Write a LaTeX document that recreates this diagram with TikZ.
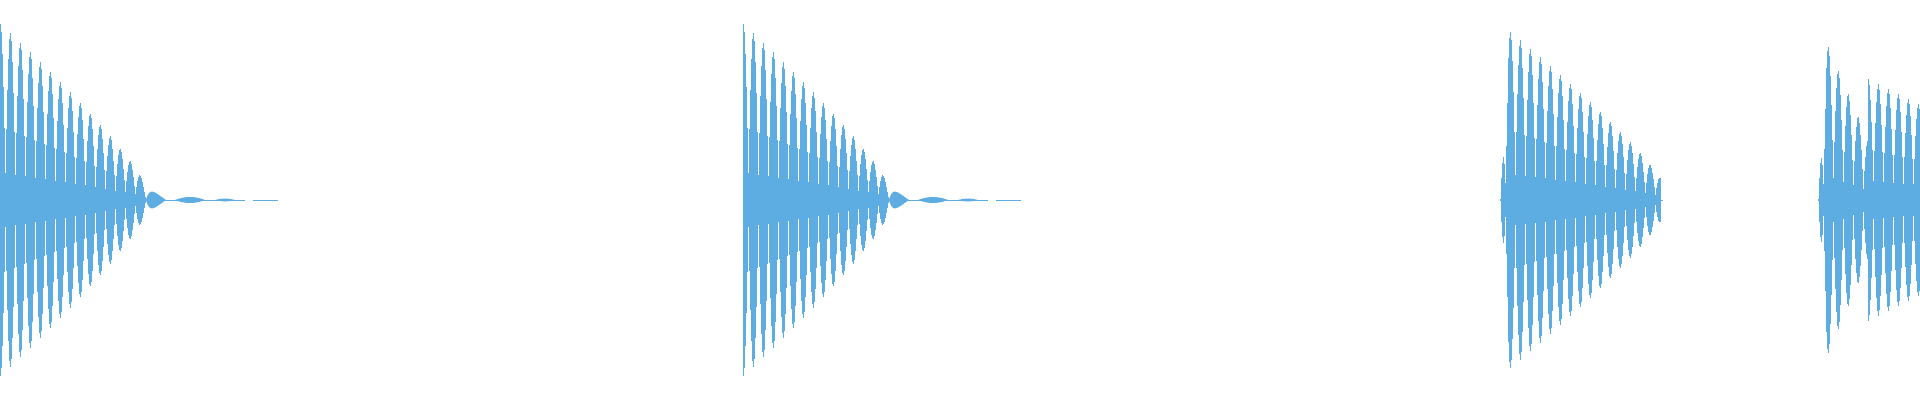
\documentclass[tikz,border=0pt]{standalone}
\definecolor{wave}{RGB}{93,173,226}
\begin{document}
\begin{tikzpicture}[x=1pt,y=1pt,wv/.style={draw=wave,line width=0.9pt}]
\useasboundingbox (0,0) rectangle (1920,400);
\clip (0,0) rectangle (1920,400);
% bursts 1 and 2
\foreach \s in {0,743}{
  \foreach \t in {0,...,145}{
    \pgfmathsetmacro\e{pow(1-\t/152,0.8)}
    \pgfmathsetmacro\h{175*\e*(0.15+0.85*abs(cos(18*\t)))+1}
    \draw[wv] (\s+\t,200-\h) -- (\s+\t,200+\h);
  }
  \draw[wave,line width=0.8pt] (\s+145,200) -- (\s+245,200) (\s+253,200) -- (\s+278,200);
  \fill[wave] (\s+146,200) .. controls (\s+150,214) and (\s+154,208) .. (\s+166,200) .. controls (\s+154,192) and (\s+150,186) .. (\s+146,200);
  \fill[wave] (\s+175,200) .. controls (\s+185,204) and (\s+195,204) .. (\s+205,200) .. controls (\s+195,196) and (\s+185,196) .. (\s+175,200);
  \fill[wave] (\s+215,200) .. controls (\s+222,202) and (\s+228,202) .. (\s+235,200) .. controls (\s+228,198) and (\s+222,198) .. (\s+215,200);
}
% burst 3
\foreach \t in {0,...,160}{
  \pgfmathsetmacro\e{min(1,\t/8)*pow(1-\t/172,0.8)}
  \pgfmathsetmacro\h{175*\e*(0.15+0.85*abs(cos(18*\t)))+1}
  \draw[wv] (1500+\t,200-\h) -- (1500+\t,200+\h);
}
\draw[wave,line width=0.8pt] (1655,200) -- (1663,200);
% burst 4
\foreach \t in {0,...,102}{
  \pgfmathsetmacro\e{min(1,\t/8)*(\t<50 ? 1-\t/75 : 0.65-(\t-62)/350)}
  \pgfmathsetmacro\h{175*\e*(0.15+0.85*abs(cos(18*\t)))+1}
  \draw[wv] (1818+\t,200-\h) -- (1818+\t,200+\h);
}
\end{tikzpicture}
\end{document}
